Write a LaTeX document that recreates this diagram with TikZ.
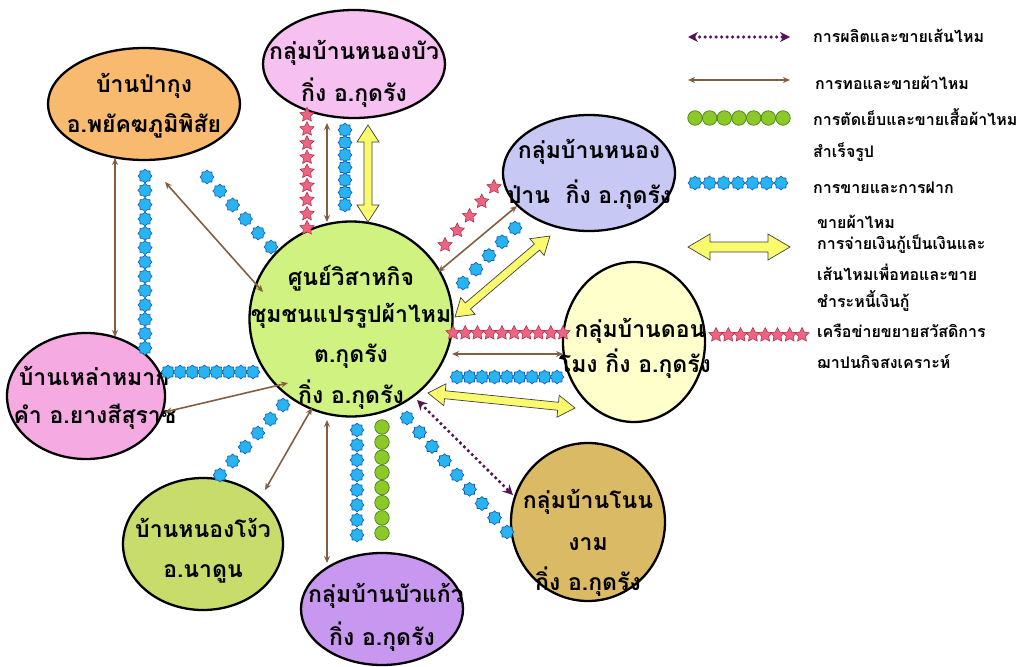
\documentclass[tikz,border=0pt]{standalone}
\usepackage{fontspec}
\newfontfamily\thai[Script=Thai]{Loma}
\usetikzlibrary{shapes.geometric,arrows.meta,calc}
\definecolor{cnode}{RGB}{208,242,128}
\definecolor{nbc}{RGB}{246,192,240}
\definecolor{pkc}{RGB}{248,186,110}
\definecolor{npc}{RGB}{200,200,244}
\definecolor{dmc}{RGB}{255,255,204}
\definecolor{nnc}{RGB}{218,186,100}
\definecolor{bkc}{RGB}{200,152,240}
\definecolor{ngc}{RGB}{200,220,108}
\definecolor{lmc}{RGB}{246,170,226}
\definecolor{cogblue}{RGB}{40,180,240}
\definecolor{cogedge}{RGB}{20,90,180}
\definecolor{starred}{RGB}{238,100,128}
\definecolor{staredge}{RGB}{170,40,70}
\definecolor{dotgreen}{RGB}{140,200,40}
\definecolor{dotedge}{RGB}{70,130,20}
\definecolor{brownc}{RGB}{130,95,65}
\definecolor{purplec}{RGB}{85,20,85}
\definecolor{arrowyellow}{RGB}{250,250,110}
\newcommand\chain[4]{\foreach \i in {0,...,#4}{\node[#1] at ($(#2)!\i/#4!(#3)$) {};}}
\newcommand\fatlink[5]{%
  \pgfpointdiff{\pgfpointanchor{#1}{center}}{\pgfpointanchor{#2}{center}}%
  \pgfgetlastxy{\fdx}{\fdy}%
  \pgfmathsetmacro\fang{atan2(\fdy,\fdx)}%
  \pgfmathsetmacro\flen{veclen(\fdx,\fdy)}%
  \begin{scope}[shift={(#1)},rotate=\fang]
    \path[fatstyle] (0pt,0pt) -- (#5,#4) -- (#5,#3) -- ({\flen pt-#5},#3) -- ({\flen pt-#5},#4)
      -- (\flen pt,0pt) -- ({\flen pt-#5},-#4) -- ({\flen pt-#5},-#3) -- (#5,-#3) -- (#5,-#4) -- cycle;
  \end{scope}}
\begin{document}
\begin{tikzpicture}[x=1pt,y=-1pt,
  ell/.style={ellipse, draw=black, line width=2.3pt, inner sep=0pt},
  txt/.style={font=\thai\bfseries\fontsize{23}{28}\selectfont, inner sep=0pt, anchor=base},
  lgt/.style={font=\thai\bfseries\fontsize{16}{20}\selectfont, inner sep=0pt, anchor=base west},
  cog/.style={star, star points=8, star point ratio=1.28, minimum size=14pt, inner sep=0pt, fill=cogblue, draw=cogedge, line width=0.6pt},
  rstar/.style={star, star points=5, star point ratio=2.0, minimum size=15pt, inner sep=0pt, fill=starred, draw=staredge, line width=0.5pt},
  gdot/.style={circle, minimum size=14.5pt, inner sep=0pt, fill=dotgreen, draw=dotedge, line width=0.7pt},
  brn/.style={draw=brownc, line width=1.6pt, {Stealth[length=7pt,width=6pt]}-{Stealth[length=7pt,width=6pt]}},
  pdot/.style={draw=purplec, line width=3.6pt, dash pattern=on 0pt off 5.5pt, line cap=round, {Stealth[length=10pt,width=10pt]}-{Stealth[length=10pt,width=10pt]}},
  fatstyle/.style={fill=arrowyellow, draw=black!75, line width=0.7pt, line join=miter}]
\fill[white] (0,0) rectangle (1019,666);
\useasboundingbox (0,0) rectangle (1019,666);
% nodes
\node[ell, fill=cnode, minimum width=203pt, minimum height=195pt] (c) at (351,319) {};
\node[ell, fill=nbc, minimum width=182pt, minimum height=108pt] (nb) at (354,64) {};
\node[ell, fill=pkc, minimum width=192pt, minimum height=112pt] (pk) at (144,104) {};
\node[ell, fill=npc, minimum width=172pt, minimum height=116pt] (np) at (589,173) {};
\node[ell, fill=dmc, minimum width=142pt, minimum height=160pt] (dm) at (634,342) {};
\node[ell, fill=nnc, minimum width=154pt, minimum height=158pt] (nn) at (588,522) {};
\node[ell, fill=bkc, minimum width=162pt, minimum height=112pt] (bk) at (382,609) {};
\node[ell, fill=ngc, minimum width=160pt, minimum height=132pt] (ng) at (203,544) {};
\node[ell, fill=lmc, minimum width=158pt, minimum height=126pt] (lm) at (86,396) {};
% texts
\node[txt] (c1) at ($(c)+(0,-34)$) {ศูนย์วิสาหกิจ};
\node[txt] (c2) at ($(c)+(0,3)$) {ชุมชนแปรรูปผ้าไหม};
\node[txt] (c3) at ($(c)+(0,43)$) {ต.กุดรัง};
\node[txt] (c4) at ($(c)+(0,84)$) {กิ่ง อ.กุดรัง};
\node[txt] (nb1) at ($(nb)+(0,-4)$) {กลุ่มบ้านหนองบัว};
\node[txt] (nb2) at ($(nb)+(0,38)$) {กิ่ง อ.กุดรัง};
\node[txt] (pk1) at ($(pk)+(0,-11)$) {บ้านป่ากุง};
\node[txt] (pk2) at ($(pk)+(0,28)$) {อ.พยัคฆภูมิพิสัย};
\node[txt] (np1) at ($(np)+(0,-15)$) {กลุ่มบ้านหนอง};
\node[txt] (np2) at ($(np)+(0,30)$) {ป่าน~~กิ่ง อ.กุดรัง};
\node[txt] (dm1) at ($(dm)+(6,-5)$) {กลุ่มบ้านดอน};
\node[txt] (dm2) at ($(dm)+(1,30)$) {โมง กิ่ง อ.กุดรัง};
\node[txt] (nn1) at ($(nn)+(0,-14)$) {กลุ่มบ้านโนน};
\node[txt] (nn2) at ($(nn)+(0,28)$) {งาม};
\node[txt] (nn3) at ($(nn)+(0,68)$) {กิ่ง อ.กุดรัง};
\node[txt] (bk1) at ($(bk)+(4,-7)$) {กลุ่มบ้านบัวแก้ว};
\node[txt] (bk2) at ($(bk)+(0,36)$) {กิ่ง อ.กุดรัง};
\node[txt] (ng1) at ($(ng)+(0,-7)$) {บ้านหนองโง้ว};
\node[txt] (ng2) at ($(ng)+(0,33)$) {อ.นาดูน};
\node[txt] (lm1) at ($(lm)+(8,-11)$) {บ้านเหล่าหมาก};
\node[txt] (lm2) at ($(lm)+(9,27)$) {คำ อ.ยางสีสุราช};
% connector end points
\coordinate (t1a) at ($(nb)+(-47,51)$); \coordinate (t1b) at ($(c)+(-44,-91)$);
\coordinate (t2a) at ($(nb)+(-27,59)$); \coordinate (t2b) at ($(c)+(-24,-97)$);
\coordinate (t3a) at ($(nb)+(-9,66)$);  \coordinate (t3b) at ($(c)+(-6,-114)$);
\coordinate (t4a) at ($(nb)+(14,61)$);  \coordinate (t4b) at ($(c)+(17,-97)$);
\coordinate (p1a) at ($(pk)+(-29,54)$); \coordinate (p1b) at ($(lm)+(29,-59)$);
\coordinate (p2a) at ($(pk)+(1,72)$);   \coordinate (p2b) at ($(lm)+(59,-48)$);
\coordinate (p3a) at ($(pk)+(21,78)$);  \coordinate (p3b) at ($(c)+(-88,-27)$);
\coordinate (p4a) at ($(pk)+(63,73)$);  \coordinate (p4b) at ($(c)+(-80,-72)$);
\coordinate (l1a) at ($(lm)+(82,-24)$); \coordinate (l1b) at ($(c)+(-98,53)$);
\coordinate (l2a) at ($(lm)+(79,16)$);  \coordinate (l2b) at ($(c)+(-63,64)$);
\coordinate (n1a) at ($(ng)+(17,-69)$); \coordinate (n1b) at ($(c)+(-68,86)$);
\coordinate (n2a) at ($(ng)+(62,-54)$); \coordinate (n2b) at ($(c)+(-39,89)$);
\coordinate (b1a) at ($(c)+(-24,101)$); \coordinate (b1b) at ($(bk)+(-55,-46)$);
\coordinate (b2a) at ($(c)+(6,111)$);   \coordinate (b2b) at ($(bk)+(-25,-74)$);
\coordinate (b3a) at ($(c)+(31,108)$);  \coordinate (b3b) at ($(bk)+(0,-76)$);
\coordinate (o1a) at ($(c)+(66,81)$);   \coordinate (o1b) at ($(nn)+(-75,-27)$);
\coordinate (o2a) at ($(c)+(56,99)$);   \coordinate (o2b) at ($(nn)+(-81,10)$);
\coordinate (d1a) at ($(c)+(102,14)$);  \coordinate (d1b) at ($(dm)+(-71,-9)$);
\coordinate (d2a) at ($(c)+(101,35)$);  \coordinate (d2b) at ($(dm)+(-71,12)$);
\coordinate (d3a) at ($(c)+(106,58)$);  \coordinate (d3b) at ($(dm)+(-77,35)$);
\coordinate (d4a) at ($(c)+(77,74)$);   \coordinate (d4b) at ($(dm)+(-59,66)$);
\coordinate (e1a) at ($(c)+(94,-74)$);  \coordinate (e1b) at ($(np)+(-95,14)$);
\coordinate (e2a) at ($(c)+(87,-47)$);  \coordinate (e2b) at ($(np)+(-72,33)$);
\coordinate (e3a) at ($(c)+(112,-36)$); \coordinate (e3b) at ($(np)+(-74,55)$);
\coordinate (e4a) at ($(c)+(104,-2)$);  \coordinate (e4b) at ($(np)+(-39,63)$);
% connectors
\chain{rstar}{t1a}{t1b}{8}
\draw[brn] (t2a) -- (t2b);
\chain{cog}{t3a}{t3b}{6}
\fatlink{t4a}{t4b}{4pt}{11pt}{17pt}
\draw[brn] (p1a) -- (p1b);
\chain{cog}{p2a}{p2b}{12}
\draw[brn] (p3a) -- (p3b);
\chain{cog}{p4a}{p4b}{5}
\chain{cog}{l1a}{l1b}{7}
\draw[brn] (l2a) -- (l2b);
\chain{cog}{n1a}{n1b}{5}
\draw[brn] (n2a) -- (n2b);
\draw[brn] (b1a) -- (b1b);
\chain{cog}{b2a}{b2b}{7}
\chain{gdot}{b3a}{b3b}{7}
\draw[pdot] (o1a) -- (o1b);
\chain{cog}{o2a}{o2b}{8}
\chain{rstar}{d1a}{d1b}{9}
\draw[brn] (d2a) -- (d2b);
\chain{cog}{d3a}{d3b}{8}
\fatlink{d4a}{d4b}{4pt}{11pt}{17pt}
\chain{rstar}{e1a}{e1b}{4}
\draw[brn] (e2a) -- (e2b);
\chain{cog}{e3a}{e3b}{4}
\fatlink{e4a}{e4b}{4pt}{11pt}{17pt}
% legend
\node[lgt] (lg1) at (813,43) {การผลิตและขายเส้นไหม};
\node[lgt] (lg2) at (815,90) {การทอและขายผ้าไหม};
\node[lgt] (lg3) at (813,125) {การตัดเย็บและขายเสื้อผ้าไหม};
\node[lgt] (lg3b) at (813,157) {สำเร็จรูป};
\node[lgt] (lg4) at (813,193) {การขายและการฝาก};
\node[lgt] (lg4b) at (817,228) {ขายผ้าไหม};
\node[lgt] (lg5) at (817,249) {การจ่ายเงินกู้เป็นเงินและ};
\node[lgt] (lg5b) at (817,280) {เส้นไหมเพื่อทอและขาย};
\node[lgt] (lg5c) at (817,307) {ชำระหนี้เงินกู้};
\node[lgt] (lg6) at (817,337) {เครือข่ายขยายสวัสดิการ};
\node[lgt] (lg6b) at (817,368) {ฌาปนกิจสงเคราะห์};
\coordinate (k1a) at ($(lg1.base west)+(-125,-6)$); \coordinate (k1b) at ($(lg1.base west)+(-23,-6)$);
\coordinate (k2a) at ($(lg2.base west)+(-127,-10)$); \coordinate (k2b) at ($(lg2.base west)+(-25,-10)$);
\coordinate (k3a) at ($(lg3.base west)+(-118,-7)$); \coordinate (k3b) at ($(lg3.base west)+(-30,-7)$);
\coordinate (k4a) at ($(lg4.base west)+(-118,-10)$); \coordinate (k4b) at ($(lg4.base west)+(-32,-10)$);
\coordinate (k5a) at ($(lg5.base west)+(-129,-2)$); \coordinate (k5b) at ($(lg5.base west)+(-27,-2)$);
\coordinate (k6a) at ($(lg6.base west)+(-101,-2)$); \coordinate (k6b) at ($(lg6.base west)+(-15,-2)$);
\draw[pdot] (k1a) -- (k1b);
\draw[brn, line width=2.4pt] (k2a) -- (k2b);
\chain{gdot}{k3a}{k3b}{6}
\chain{cog}{k4a}{k4b}{6}
\fatlink{k5a}{k5b}{5pt}{13pt}{22pt}
\chain{rstar}{k6a}{k6b}{7}
\end{tikzpicture}
\end{document}
